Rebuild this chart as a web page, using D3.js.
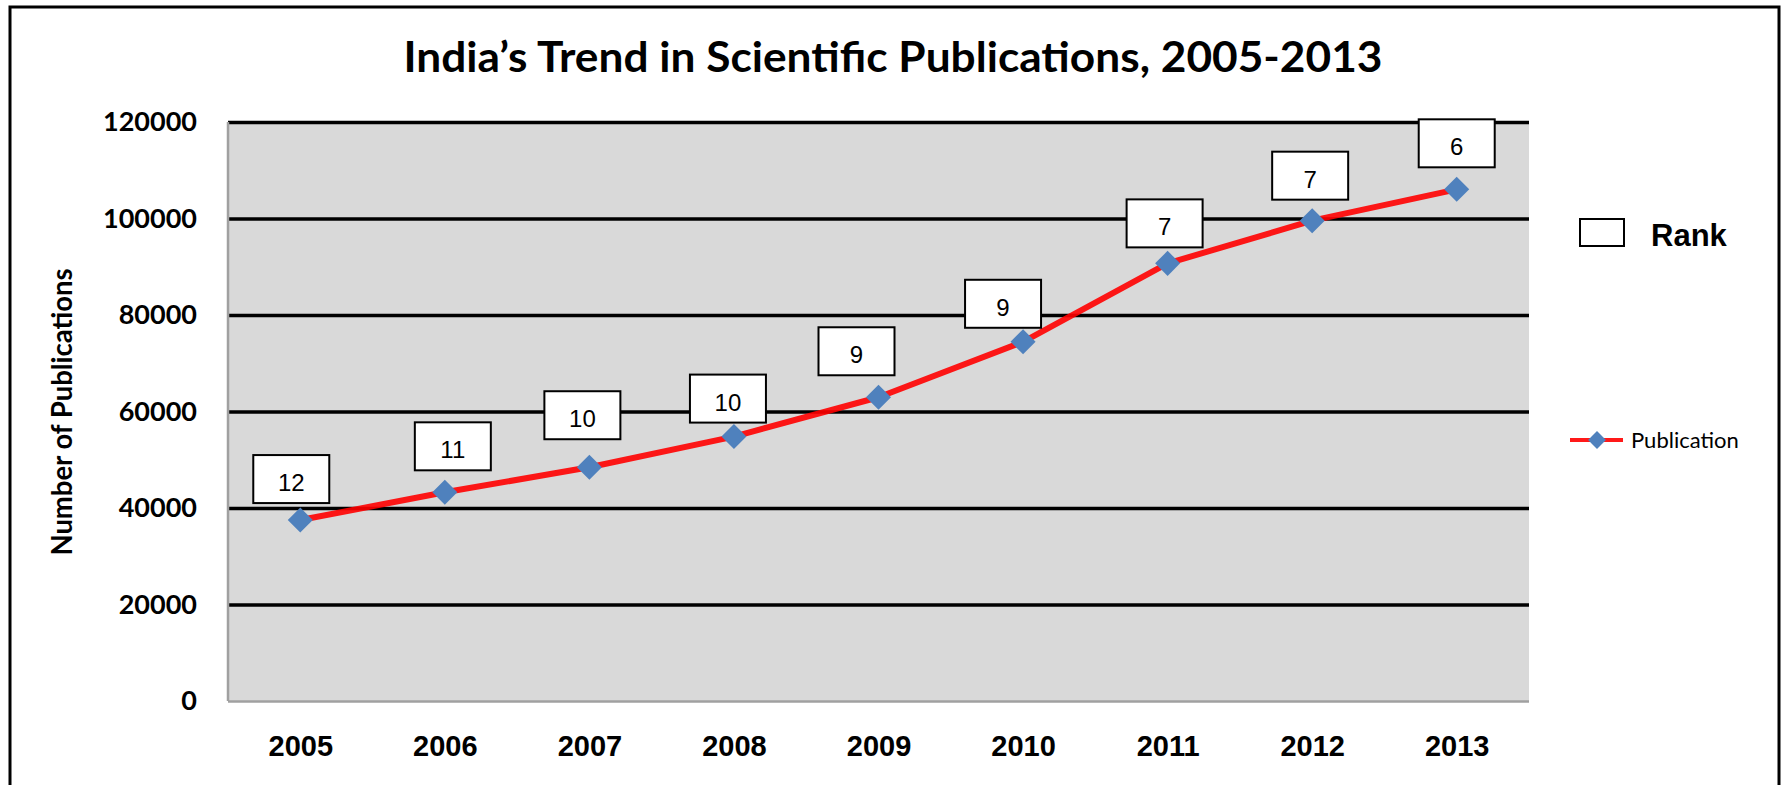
<!DOCTYPE html>
<html>
<head>
<meta charset="utf-8">
<script src="https://cdn.jsdelivr.net/npm/d3@7"></script>
<style>
  body { margin: 0; background: #fff; }
</style>
</head>
<body>
<div id="chart"></div>
<script>
var width = 1785;
var height = 785;

// chart data
var years = ["2005", "2006", "2007", "2008", "2009", "2010", "2011", "2012", "2013"];
var publications = [37500, 43250, 48450, 54800, 62950, 74450, 90700, 99550, 106050];
var ranks = [12, 11, 10, 10, 9, 9, 7, 7, 6];
var yTicks = [0, 20000, 40000, 60000, 80000, 100000, 120000];

// hand placed rank labels (offset from the point, in px)
var labelDx = [-9, 8, -7, -6, -22, -20, -3, -2, 0];
var labelGap = [17, 22, 28, 14, 22, 14, 16, 21, 22];

window.onload = start;

function start() {
    var plot = { left: 228, right: 1529, top: 122, bottom: 701 };

    var xScale = d3.scalePoint().domain(years).range([plot.left, plot.right]).padding(0.5);
    var yScale = d3.scaleLinear().domain([0, 120000]).range([plot.bottom, plot.top]);

    var chart = d3.select("#chart")
        .append("svg")
        .attr("width", width)
        .attr("height", height);

    // outer frame
    chart.append("rect")
        .attr("x", 10).attr("y", 7)
        .attr("width", 1769).attr("height", 820)
        .attr("fill", "none")
        .attr("stroke", "#000")
        .attr("stroke-width", 3);

    // title
    chart.append("text")
        .attr("x", 893).attr("y", 72)
        .attr("text-anchor", "middle")
        .attr("textLength", 979)
        .attr("lengthAdjust", "spacingAndGlyphs")
        .style("font-family", "Lato, 'Open Sans', sans-serif")
        .style("font-weight", "bold")
        .style("font-size", "42px")
        .text("India\u2019s Trend in Scientific Publications, 2005-2013");

    // plot background
    chart.append("rect")
        .attr("x", plot.left).attr("y", plot.top)
        .attr("width", plot.right - plot.left)
        .attr("height", plot.bottom - plot.top)
        .attr("fill", "#d9d9d9");

    // y axis with gridlines
    var yAxis = d3.axisLeft(yScale)
        .tickValues(yTicks)
        .tickSize(-(plot.right - plot.left))
        .tickPadding(31)
        .tickFormat(d3.format("d"));

    var gy = chart.append("g")
        .attr("transform", "translate(" + plot.left + ",0)")
        .call(yAxis);
    gy.select(".domain").remove();
    gy.selectAll(".tick line")
        .attr("stroke", function(d) { return d == 0 ? "#a0a0a0" : "#000"; })
        .attr("stroke-width", function(d) { return d == 0 ? 2.5 : 3.5; });
    gy.selectAll(".tick text")
        .style("font-family", "Lato, 'Open Sans', sans-serif")
        .style("font-weight", "bold")
        .style("font-size", "27px")
        .attr("fill", "#000");

    // left border of the plot
    chart.append("line")
        .attr("x1", plot.left).attr("x2", plot.left)
        .attr("y1", plot.top).attr("y2", plot.bottom)
        .attr("stroke", "#a0a0a0")
        .attr("stroke-width", 2.5);

    // x axis
    var xAxis = d3.axisBottom(xScale).tickSize(0).tickPadding(34);
    var gx = chart.append("g")
        .attr("transform", "translate(0," + plot.bottom + ")")
        .call(xAxis);
    gx.select(".domain").remove();
    gx.selectAll(".tick text")
        .style("font-family", "'Liberation Sans', Arial, sans-serif")
        .style("font-weight", "bold")
        .style("font-size", "29px")
        .attr("fill", "#000");

    // y axis title
    chart.append("text")
        .attr("transform", "translate(72,412) rotate(-90)")
        .attr("text-anchor", "middle")
        .attr("textLength", 287)
        .attr("lengthAdjust", "spacingAndGlyphs")
        .style("font-family", "Lato, 'Open Sans', sans-serif")
        .style("font-weight", "bold")
        .style("font-size", "28px")
        .text("Number of Publications");

    var points = years.map(function(y, i) {
        return { year: y, value: publications[i], rank: ranks[i], i: i };
    });

    // publication line
    var line = d3.line()
        .x(function(d) { return xScale(d.year); })
        .y(function(d) { return yScale(d.value); });

    chart.append("path")
        .datum(points)
        .attr("d", line)
        .attr("fill", "none")
        .attr("stroke", "#ff0000")
        .attr("stroke-opacity", 0.9)
        .attr("stroke-width", 6)
        .attr("stroke-linejoin", "round");

    // diamond markers
    var diamond = d3.symbol().type(d3.symbolSquare).size(313);
    chart.selectAll(".marker")
        .data(points)
        .enter()
        .append("path")
        .attr("class", "marker")
        .attr("d", diamond)
        .attr("transform", function(d) {
            return "translate(" + xScale(d.year) + "," + yScale(d.value) + ") rotate(45)";
        })
        .attr("fill", "#4f81bd");

    // rank labels
    var boxW = 76, boxH = 48;
    var labels = chart.selectAll(".rank")
        .data(points)
        .enter()
        .append("g")
        .attr("class", "rank")
        .attr("transform", function(d) {
            var cx = xScale(d.year) + labelDx[d.i];
            var by = yScale(d.value) - labelGap[d.i];
            return "translate(" + (cx - boxW / 2) + "," + (by - boxH) + ")";
        });
    labels.append("rect")
        .attr("width", boxW)
        .attr("height", boxH)
        .attr("fill", "#fff")
        .attr("stroke", "#000")
        .attr("stroke-width", 2);
    labels.append("text")
        .attr("x", boxW / 2)
        .attr("y", 36)
        .attr("text-anchor", "middle")
        .style("font-family", "'Liberation Sans', Arial, sans-serif")
        .style("font-size", "24px")
        .text(function(d) { return d.rank; });

    // legend
    chart.append("rect")
        .attr("x", 1580).attr("y", 219)
        .attr("width", 44).attr("height", 27)
        .attr("fill", "#fff")
        .attr("stroke", "#000")
        .attr("stroke-width", 2);
    chart.append("text")
        .attr("x", 1651).attr("y", 246)
        .style("font-family", "'Liberation Sans', Arial, sans-serif")
        .style("font-weight", "bold")
        .style("font-size", "31px")
        .text("Rank");

    chart.append("line")
        .attr("x1", 1570).attr("x2", 1623)
        .attr("y1", 440).attr("y2", 440)
        .attr("stroke", "#ff0000")
        .attr("stroke-opacity", 0.9)
        .attr("stroke-width", 4);
    chart.append("path")
        .attr("d", d3.symbol().type(d3.symbolSquare).size(160))
        .attr("transform", "translate(1597,440) rotate(45)")
        .attr("fill", "#4f81bd");
    chart.append("text")
        .attr("x", 1631).attr("y", 448)
        .style("font-family", "Lato, 'Open Sans', sans-serif")
        .style("font-size", "22px")
        .text("Publication");
}
</script>
</body>
</html>
